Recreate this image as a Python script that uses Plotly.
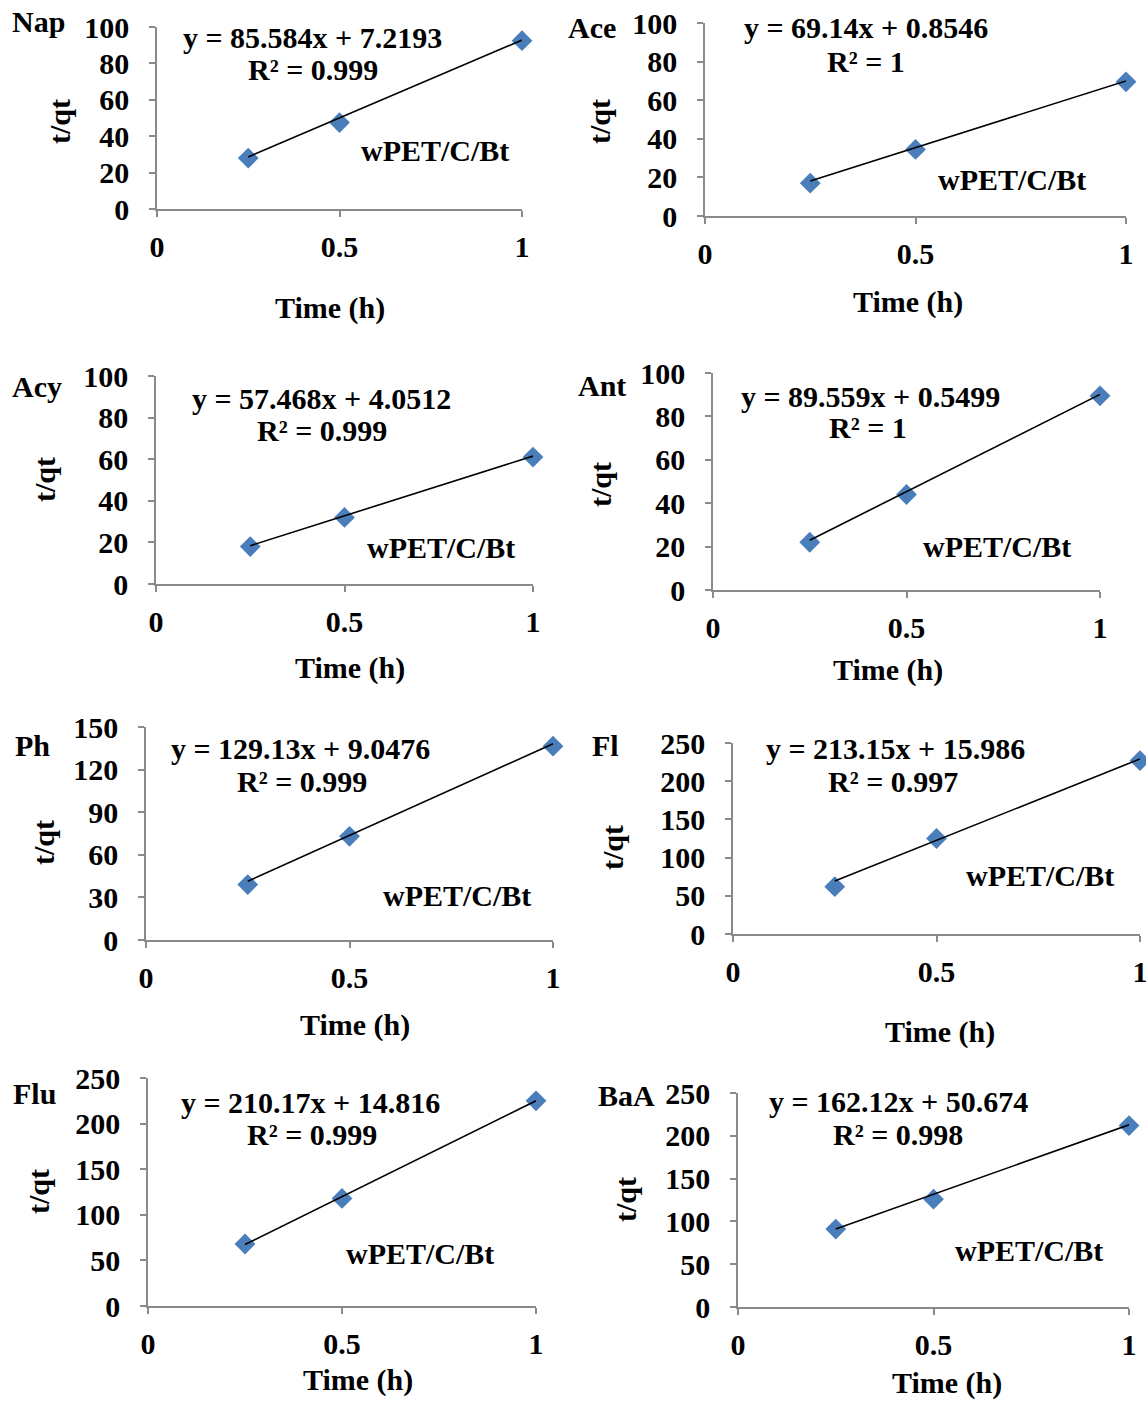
import plotly.graph_objects as go

# ---- data -------------------------------------------------------------
panel_names = ["Nap", "Ace", "Acy", "Ant", "Ph", "Fl", "Flu", "BaA"]
time_h = [0.25, 0.5, 1.0]

nap_tqt = [28.0, 47.5, 92.5]
ace_tqt = [17.0, 34.5, 69.5]
acy_tqt = [18.0, 32.0, 61.0]
ant_tqt = [22.0, 44.0, 89.5]
ph_tqt = [39.0, 73.0, 136.5]
fl_tqt = [62.0, 125.0, 227.0]
flu_tqt = [68.0, 118.0, 225.0]
baa_tqt = [91.0, 126.0, 212.0]

slopes = [85.584, 69.14, 57.468, 89.559, 129.13, 213.15, 210.17, 162.12]
intercepts = [7.2193, 0.8546, 4.0512, 0.5499, 9.0476, 15.986, 14.816, 50.674]
r_squared = ["0.999", "1", "0.999", "1", "0.999", "0.997", "0.999", "0.998"]

y_max = [100, 100, 100, 100, 150, 250, 250, 250]
y_step = [20, 20, 20, 20, 30, 50, 50, 50]
x_ticks = [0, 0.5, 1]
x_ticktext = ["0", "0.5", "1"]

series = [nap_tqt, ace_tqt, acy_tqt, ant_tqt, ph_tqt, fl_tqt, flu_tqt, baa_tqt]

# ---- page geometry (pixels) ------------------------------------------
W, H = 1146, 1401
# plot box of each panel: left, right, top, bottom
boxes = [
    (157, 522, 27, 209),
    (705, 1126, 23, 216),
    (156, 533, 376, 584),
    (713, 1100, 373, 590),
    (146, 553, 727, 940),
    (733, 1140, 743, 934),
    (148, 536, 1078, 1306),
    (738, 1129, 1093, 1307),
]
# label anchors: name, equation, R², material, y title, x title
label_pos = [
    dict(name=(38, 21), eq=(312, 37), r2=(313, 69), mat=(435, 150), yt=(60, 122), xt=(330, 308)),
    dict(name=(592, 28), eq=(866, 28), r2=(866, 61), mat=(1012, 180), yt=(600, 122), xt=(908, 302)),
    dict(name=(37, 387), eq=(321, 398), r2=(322, 430), mat=(441, 548), yt=(45, 480), xt=(350, 668)),
    dict(name=(602, 385), eq=(870, 396), r2=(868, 428), mat=(997, 546), yt=(600, 485), xt=(888, 670)),
    dict(name=(32, 745), eq=(300, 748), r2=(302, 781), mat=(457, 895), yt=(43, 843), xt=(355, 1025)),
    dict(name=(605, 745), eq=(895, 748), r2=(893, 781), mat=(1040, 875), yt=(612, 848), xt=(940, 1032)),
    dict(name=(34, 1093), eq=(310, 1102), r2=(312, 1134), mat=(420, 1253), yt=(38, 1192), xt=(358, 1380)),
    dict(name=(626, 1095), eq=(898, 1101), r2=(898, 1134), mat=(1029, 1250), yt=(625, 1200), xt=(947, 1383)),
]

FONT = "Liberation Serif"
FS = 30
AXIS_GREY = "#8a8a8a"
MARKER_BLUE = "#4a7ebb"


def px_x(x):
    return x / W


def px_y(y):
    return 1 - y / H


fig = go.Figure()
annotations = []
layout_axes = {}

for i, (name, yvals) in enumerate(zip(panel_names, series)):
    n = i + 1
    xa = "x" if n == 1 else f"x{n}"
    ya = "y" if n == 1 else f"y{n}"
    left, right, top, bottom = boxes[i]

    # measured points
    fig.add_trace(go.Scatter(
        x=time_h, y=yvals, xaxis=xa, yaxis=ya, mode="markers",
        marker=dict(symbol="diamond", size=16, color=MARKER_BLUE),
        cliponaxis=False, showlegend=False, hoverinfo="x+y",
    ))
    # linear trend line over the measured range
    x_line = [time_h[0], time_h[-1]]
    y_line = [slopes[i] * x + intercepts[i] for x in x_line]
    fig.add_trace(go.Scatter(
        x=x_line, y=y_line, xaxis=xa, yaxis=ya, mode="lines",
        line=dict(color="black", width=1.6),
        cliponaxis=False, showlegend=False, hoverinfo="skip",
    ))

    common = dict(
        showline=True, linecolor=AXIS_GREY, linewidth=1.5,
        ticks="outside", tickcolor=AXIS_GREY, tickwidth=1.5, ticklen=6,
        showgrid=False, zeroline=False,
        tickfont=dict(family=FONT, size=FS, color="black", weight="bold"),
        ticklabeloverflow="allow",
    )
    layout_axes["xaxis" if n == 1 else f"xaxis{n}"] = dict(
        common, domain=[px_x(left), px_x(right)], anchor=ya,
        range=[0, 1], tickvals=x_ticks, ticktext=x_ticktext,
        ticklabelstandoff=4,
    )
    layout_axes["yaxis" if n == 1 else f"yaxis{n}"] = dict(
        common, domain=[px_y(bottom), px_y(top)], anchor=xa,
        range=[0, y_max[i]], dtick=y_step[i], tick0=0,
        ticklabelstandoff=14,
    )

    pos = label_pos[i]
    txt_font = dict(family=FONT, size=FS, color="black", weight="bold")

    def add(text, xy, angle=0):
        annotations.append(dict(
            text=text, x=px_x(xy[0]), y=px_y(xy[1]), xref="paper", yref="paper",
            xanchor="center", yanchor="middle", showarrow=False,
            font=txt_font, textangle=angle,
        ))

    add(name, pos["name"])
    add(f"y = {slopes[i]}x + {intercepts[i]}", pos["eq"])
    add(f"R² = {r_squared[i]}", pos["r2"])
    add("wPET/C/Bt", pos["mat"])
    add("t/qt", pos["yt"], angle=-90)
    add("Time (h)", pos["xt"])

fig.update_layout(
    width=W, height=H,
    # labels sit close to the page edge; keep them from pushing the margins
    margin=dict(l=0, r=0, t=0, b=0, autoexpand=False),
    paper_bgcolor="white", plot_bgcolor="white",
    annotations=annotations,
    **layout_axes,
)

fig.write_html("out.html")
